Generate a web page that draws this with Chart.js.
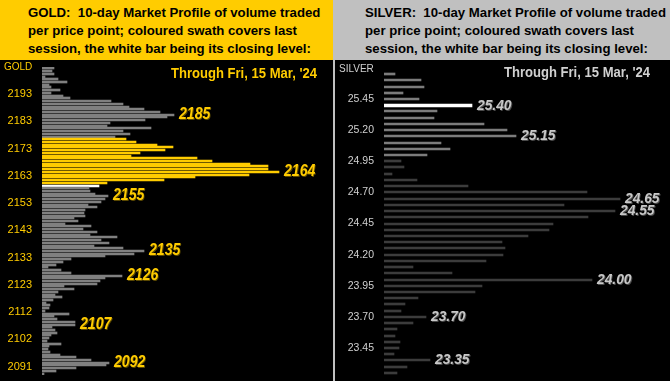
<!DOCTYPE html>
<html>
<head>
<meta charset="utf-8">
<script src="https://cdn.jsdelivr.net/npm/chart.js@4.4.1/dist/chart.umd.min.js"></script>
<style>
  html, body { margin:0; padding:0; }
  body { width:670px; height:381px; position:relative; overflow:hidden; background:#c0c0c0; }
  .hdr { position:absolute; top:0; height:60px; box-sizing:border-box; padding-top:3.6px;
         font-family:"Liberation Sans", Arial, sans-serif; font-weight:bold; font-size:13.2px;
         line-height:18.3px; color:#000; white-space:nowrap; }
  #goldHdr { left:0; width:333px; background:#FFCC00; padding-left:28px; }
  #silverHdr { left:335px; width:335px; background:#C0C0C0; padding-left:30px; }
  canvas { position:absolute; top:60px; background:#000; }
  #gold { left:0; }
  #silver { left:335px; }
</style>
</head>
<body>
<div id="goldHdr" class="hdr">GOLD:&nbsp; 10-day Market Profile of volume traded<br>per price point; coloured swath covers last<br>session, the white bar being its closing level:</div>
<div id="silverHdr" class="hdr">SILVER:&nbsp; 10-day Market Profile of volume traded<br>per price point; coloured swath covers last<br>session, the white bar being its closing level:</div>
<canvas id="gold" width="333" height="321" style="width:333px;height:321px"></canvas>
<canvas id="silver" width="335" height="321" style="width:335px;height:321px"></canvas>
<script>
// ---------- GOLD data (price bins from top to bottom) ----------
const goldVolumes = [
  12,10,12,3,16,25,7,9,18,9,
  21,28,69,81,87,102,118,132,125,103,
  68,65,109,81,88,73,84,94,115,131,
  123,98,89,155,170,208,226,226,237,207,
  153,122,65,57,47,48,53,66,63,59,
  46,55,43,42,43,32,36,23,49,41,
  55,48,75,59,67,52,81,102,92,63,
  29,21,14,6,19,29,80,63,58,55,
  22,32,16,13,20,11,4,8,7,3,
  27,12,15,33,33,10,13,15,9,7,
  5,19,7,6,8,18,34,49,67,64,
  34,14,2
];
const goldTickLabels = ['2193','2183','2173','2163','2153','2143','2133','2123','2112','2102','2091'];
const goldTickStart = 10, goldTickEvery = 10;
const goldCalloutLabels = ['2185','2164','2155','2135','2126','2107','2092'];
const goldCalloutBins = [17,38,47,67,76,94,108];
const goldSwath = [26,42];
const goldCloseBin = 43;
const goldDate = "Through Fri, 15 Mar, '24";

// ---------- SILVER data ----------
const silverVolumes = [
  11,37,40,19,35,88,53,50,100,123,
  132,57,66,43,17,20,8,33,84,203,
  236,180,231,204,169,165,144,118,121,119,
  102,29,68,208,98,91,34,21,17,42,
  29,13,11,16,15,10,46,23,13
];
const silverTickLabels = ['25.45','25.20','24.95','24.70','24.45','24.20','23.95','23.70','23.45'];
const silverTickStart = 4, silverTickEvery = 5;
const silverCalloutLabels = ['25.40','25.15','24.65','24.55','24.00','23.70','23.35'];
const silverCalloutBins = [5,10,20,22,33,39,46];
const silverSwath = [0,13];
const silverCloseBin = 5;
const silverDate = "Through Fri, 15 Mar, '24";

function makeChart(id, cfg) {
  const labels = cfg.volumes.map((v, i) => String(i));
  const colors = cfg.volumes.map((v, i) =>
    i === cfg.closeBin ? '#FFFFFF' :
    (i >= cfg.swath[0] && i <= cfg.swath[1]) ? cfg.swathColor : cfg.baseColor);
  const mainData = cfg.volumes.map((v, i) => cfg.thickClose && i === cfg.closeBin ? null : v);
  const datasets = [{
    data: mainData, backgroundColor: colors, barThickness: cfg.thickness,
    borderWidth: 0, grouped: false
  }];
  if (cfg.thickClose) {
    datasets.push({
      data: cfg.volumes.map((v, i) => i === cfg.closeBin ? v : null),
      backgroundColor: '#FFFFFF', barThickness: cfg.closeThickness, borderWidth: 0, grouped: false
    });
  }
  // snap bars to whole pixels so they render crisp like the reference
  const snap = {
    id: 'snap',
    beforeDatasetsDraw(chart) {
      chart.data.datasets.forEach((ds, d) => {
        chart.getDatasetMeta(d).data.forEach(el => {
          if (!el || el.skip) return;
          const h = el.height;
          el.y = Math.round(el.y - h / 2) + h / 2;
          el.x = Math.round(el.x);
          el.base = Math.round(el.base);
        });
      });
    }
  };
  const overlay = {
    id: 'overlay',
    afterDatasetsDraw(chart) {
      const ctx = chart.ctx;
      const meta = chart.getDatasetMeta(0);
      const metaW = cfg.thickClose ? chart.getDatasetMeta(1) : null;
      ctx.save();
      cfg.calloutLabels.forEach((txt, k) => {
        const b = cfg.calloutBins[k];
        let el = meta.data[b];
        if (metaW && b === cfg.closeBin) el = metaW.data[b];
        const x = el.x + 5, y = el.y;
        ctx.save();
        ctx.translate(x, y);
        ctx.scale(cfg.calloutScale, 1);
        ctx.font = 'italic bold ' + cfg.calloutSize + 'px "Liberation Sans", Arial, sans-serif';
        ctx.textBaseline = 'middle';
        ctx.textAlign = 'left';
        ctx.fillStyle = cfg.calloutShadow;
        ctx.fillText(txt, 1, 1);
        ctx.fillStyle = cfg.calloutColor;
        ctx.fillText(txt, 0, 0);
        ctx.restore();
      });
      ctx.save();
      ctx.translate(chart.width - cfg.dateRight, cfg.dateY);
      ctx.scale(0.87, 1);
      ctx.font = 'bold 15px "Liberation Sans", Arial, sans-serif';
      ctx.textBaseline = 'middle';
      ctx.textAlign = 'right';
      ctx.fillStyle = cfg.dateColor;
      ctx.fillText(cfg.date, 0, 0);
      ctx.restore();
      ctx.font = '10px "Liberation Sans", Arial, sans-serif';
      ctx.textBaseline = 'middle';
      ctx.textAlign = 'left';
      ctx.fillStyle = cfg.tickColor;
      ctx.fillText(cfg.title, cfg.titleX, cfg.titleY);
      ctx.restore();
    }
  };
  return new Chart(document.getElementById(id), {
    type: 'bar',
    data: { labels, datasets },
    options: {
      indexAxis: 'y',
      responsive: false,
      animation: false,
      events: [],
      layout: { padding: { top: cfg.padTop, bottom: cfg.padBottom, left: 0, right: 0 } },
      plugins: { legend: { display: false }, tooltip: { enabled: false } },
      scales: {
        x: { display: false, min: 0, max: cfg.xMax },
        y: {
          type: 'category',
          grid: { display: false, drawTicks: false },
          border: { display: false },
          afterFit(scale) {
            scale.width = cfg.axisWidth;
            scale.paddingTop = 0;
            scale.paddingBottom = 0;
          },
          ticks: {
            autoSkip: false,
            padding: 10,
            labelOffset: cfg.labelOffset,
            color: cfg.tickColor,
            font: { family: '"Liberation Sans", Arial, sans-serif', size: cfg.tickSize },
            callback: (value, index) => {
              const r = index - cfg.tickStart;
              if (r < 0 || r % cfg.tickEvery !== 0) return '';
              return cfg.tickLabels[r / cfg.tickEvery] || '';
            }
          }
        }
      }
    },
    plugins: [snap, overlay]
  });
}

makeChart('gold', {
  volumes: goldVolumes, swath: goldSwath, closeBin: goldCloseBin,
  swathColor: '#FFCC00', baseColor: '#808080', thickness: 2, thickClose: false,
  tickLabels: goldTickLabels, tickStart: goldTickStart, tickEvery: goldTickEvery,
  calloutLabels: goldCalloutLabels, calloutBins: goldCalloutBins,
  calloutColor: '#FFCC00', calloutShadow: '#5a4800', calloutSize: 16, calloutScale: 0.88,
  date: goldDate, dateColor: '#FFCC00', dateRight: 16, dateY: 13.5,
  title: 'GOLD', titleX: 4, titleY: 7, tickColor: '#FFCC00', tickSize: 11,
  padTop: 7, padBottom: 6, axisWidth: 42, xMax: 291, labelOffset: -1.5
});

makeChart('silver', {
  volumes: silverVolumes, swath: silverSwath, closeBin: silverCloseBin,
  swathColor: '#7c7c7c', baseColor: '#3c3c3c', thickness: 2, thickClose: true, closeThickness: 3,
  tickLabels: silverTickLabels, tickStart: silverTickStart, tickEvery: silverTickEvery,
  calloutLabels: silverCalloutLabels, calloutBins: silverCalloutBins,
  calloutColor: '#C8C8C8', calloutShadow: '#4a4a4a', calloutSize: 14.5, calloutScale: 0.95,
  date: silverDate, dateColor: '#D0D0D0', dateRight: 20, dateY: 13,
  title: 'SILVER', titleX: 4, titleY: 9, tickColor: '#D0D0D0', tickSize: 10.5,
  padTop: 11, padBottom: 5, axisWidth: 49, xMax: 286, labelOffset: 0
});
</script>
</body>
</html>
